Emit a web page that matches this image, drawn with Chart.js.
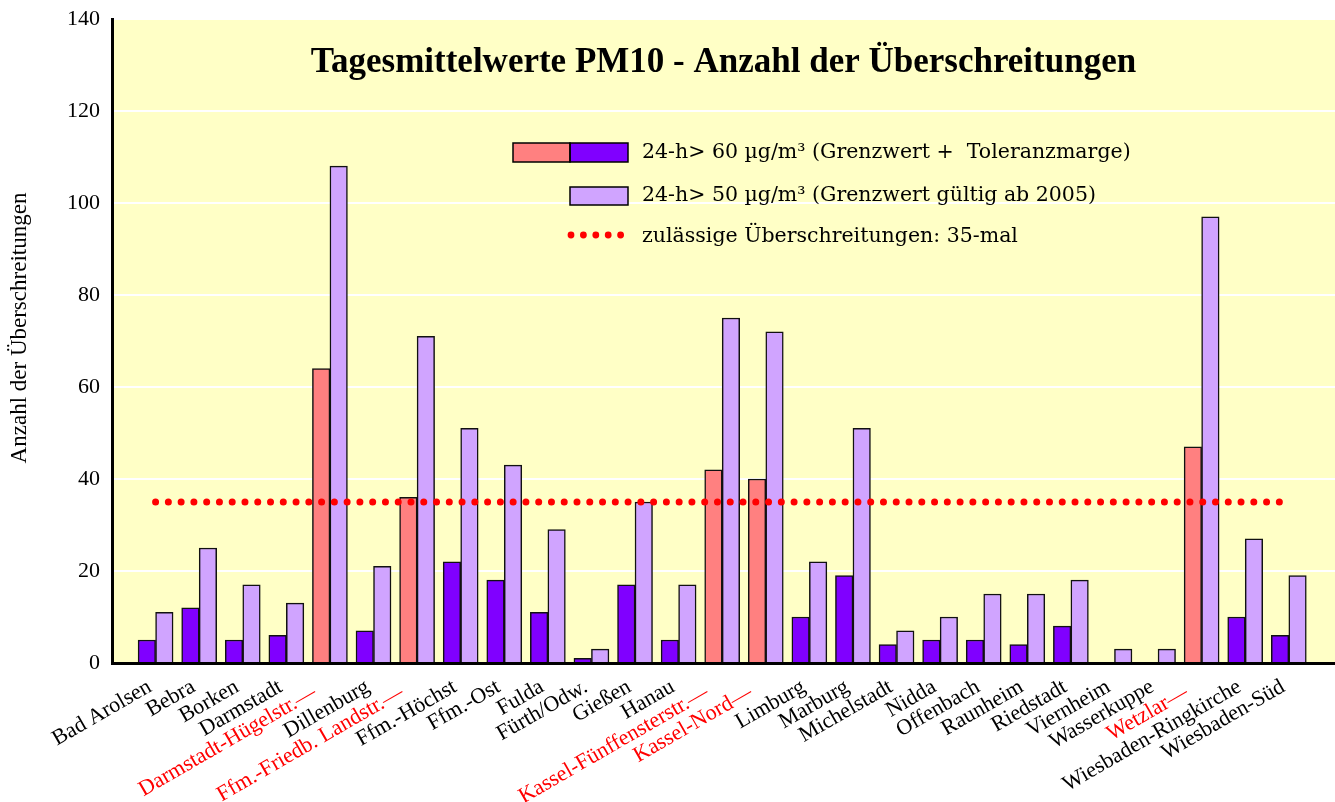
<!DOCTYPE html>
<html><head><meta charset="utf-8">
<script src="https://cdn.jsdelivr.net/npm/chart.js@4.4.1/dist/chart.umd.min.js"></script>
<style>html,body{margin:0;padding:0;background:#fff;} canvas{display:block}</style>
</head><body>
<canvas id="c" width="1335" height="802"></canvas>
<script>
// ---- data ----
const categories = ['Bad Arolsen','Bebra','Borken','Darmstadt','Darmstadt-Hügelstr.—','Dillenburg','Ffm.-Friedb. Landstr.—','Ffm.-Höchst','Ffm.-Ost','Fulda','Fürth/Odw.','Gießen','Hanau','Kassel-Fünffensterstr.—','Kassel-Nord—','Limburg','Marburg','Michelstadt','Nidda','Offenbach','Raunheim','Riedstadt','Viernheim','Wasserkuppe','Wetzlar—','Wiesbaden-Ringkirche','Wiesbaden-Süd'];
const streetStations = ['Darmstadt-Hügelstr.—','Ffm.-Friedb. Landstr.—','Kassel-Fünffensterstr.—','Kassel-Nord—','Wetzlar—'];
const over60 = [5,12,5,6,64,7,36,22,18,11,1,17,5,42,40,10,19,4,5,5,4,8,0,0,47,10,6];
const over50 = [11,25,17,13,108,21,71,51,43,29,3,35,17,75,72,22,51,7,10,15,15,18,3,3,97,27,19];
const allowedExceedances = 35;
const yTicks = [0,20,40,60,80,100,120,140];
const chartTitle = 'Tagesmittelwerte PM10 - Anzahl der Überschreitungen';
const yTitle = 'Anzahl der Überschreitungen';
const legendLabels = ['24-h> 60 µg/m³ (Grenzwert +  Toleranzmarge)','24-h> 50 µg/m³ (Grenzwert gültig ab 2005)','zulässige Überschreitungen: 35-mal'];

// ---- styles ----
const FONT = "'Liberation Serif', 'Times New Roman', serif";
const LFONT = "'DejaVu Serif', serif";
const RED = '#FF8080', DARK = '#8000FF', LIGHT = '#D0A4FF', BG = '#FFFFC6';
const isStreet = i => streetStations.includes(categories[i]);
const STREET_PAD = '\u00A0\u00A0';

const bgPlugin = {
  id: 'bg',
  beforeDraw(chart) {
    const {ctx, chartArea: a} = chart;
    ctx.save(); ctx.fillStyle = BG;
    ctx.fillRect(a.left, a.top, a.right - a.left, a.bottom - a.top);
    ctx.restore();
  }
};

const overlayPlugin = {
  id: 'overlay',
  afterDatasetsDraw(chart) {
    const {ctx, chartArea: a} = chart;
    ctx.save();
    // title
    ctx.fillStyle = '#000';
    ctx.font = "bold 35px " + FONT;
    ctx.textAlign = 'center'; ctx.textBaseline = 'middle';
    ctx.fillText(chartTitle, (a.left + a.right) / 2, 63);
    // y axis title
    ctx.save();
    ctx.translate(20, 328); ctx.rotate(-Math.PI / 2);
    ctx.font = "23px " + FONT;
    ctx.fillText(yTitle, 0, 0);
    ctx.restore();
    // legend
    ctx.lineWidth = 1.5; ctx.strokeStyle = '#000';
    ctx.fillStyle = RED; ctx.fillRect(513, 143, 57, 19);
    ctx.fillStyle = DARK; ctx.fillRect(570, 143, 58, 19);
    ctx.strokeRect(513, 143, 57, 19); ctx.strokeRect(570, 143, 58, 19);
    ctx.fillStyle = LIGHT; ctx.fillRect(570, 187, 58, 18);
    ctx.strokeRect(570, 187, 58, 18);
    ctx.fillStyle = '#FF0000';
    for (let k = 0; k < 5; k++) { ctx.beginPath(); ctx.arc(571 + k * 12.4, 235, 3.4, 0, Math.PI * 2); ctx.fill(); }
    ctx.fillStyle = '#000';
    ctx.font = "20.5px " + LFONT;
    ctx.textAlign = 'left';
    ctx.fillText(legendLabels[0], 642, 153);
    ctx.fillText(legendLabels[1], 642, 196);
    ctx.fillText(legendLabels[2], 642, 237);
    ctx.restore();
  }
};

new Chart(document.getElementById('c'), {
  type: 'bar',
  data: {
    datasets: [
      {
        type: 'line',
        order: 0,
        data: [{x: 0, y: allowedExceedances}, {x: categories.length - 1, y: allowedExceedances}],
        borderColor: '#FF0000', borderWidth: 7, borderDash: [0, 12.77], borderCapStyle: 'round',
        pointRadius: 0, fill: false
      },
      {
        order: 1,
        data: over60.map((v, i) => ({x: i, y: v})),
        backgroundColor: over60.map((v, i) => isStreet(i) ? RED : DARK),
        borderColor: '#111', borderWidth: 1.5, barThickness: 17.5
      },
      {
        order: 1,
        data: over50.map((v, i) => ({x: i, y: v})),
        backgroundColor: LIGHT,
        borderColor: '#111', borderWidth: 1.5, barThickness: 17.5
      }
    ]
  },
  options: {
    responsive: false, animation: false, devicePixelRatio: 1,
    layout: {padding: {top: 19, left: 0, right: 0, bottom: 0}},
    plugins: {legend: {display: false}, tooltip: {enabled: false}, title: {display: false}},
    scales: {
      x: {
        type: 'linear', min: -1.0, max: 27.06, offset: false,
        afterBuildTicks: s => { s.ticks = categories.map((c, i) => ({value: i - 0.13})); },
        afterFit: s => { s.height = 139; },
        grid: {display: false, drawTicks: false},
        border: {display: true, color: '#000', width: 3},
        ticks: {
          autoSkip: false, minRotation: 30, maxRotation: 30, padding: 11,
          font: {family: FONT, size: 22},
          color: ctx => isStreet(ctx.index) ? '#FF0000' : '#000',
          callback: (v, i) => categories[i] + (isStreet(i) ? STREET_PAD : '')
        }
      },
      y: {
        min: 0, max: 140,
        afterBuildTicks: s => { s.ticks = yTicks.map(v => ({value: v})); },
        afterFit: s => { s.width = 112; s.paddingTop = 0; s.paddingBottom = 0; },
        grid: {color: ctx => ctx.tick && ctx.tick.value === 0 ? 'rgba(0,0,0,0)' : '#FFFFFF', lineWidth: 2, drawTicks: false},
        border: {display: true, color: '#000', width: 3},
        ticks: {padding: 12, font: {family: FONT, size: 22}, color: '#000'},
        title: {display: false}
      }
    }
  },
  plugins: [bgPlugin, overlayPlugin]
});
</script>
</body></html>
